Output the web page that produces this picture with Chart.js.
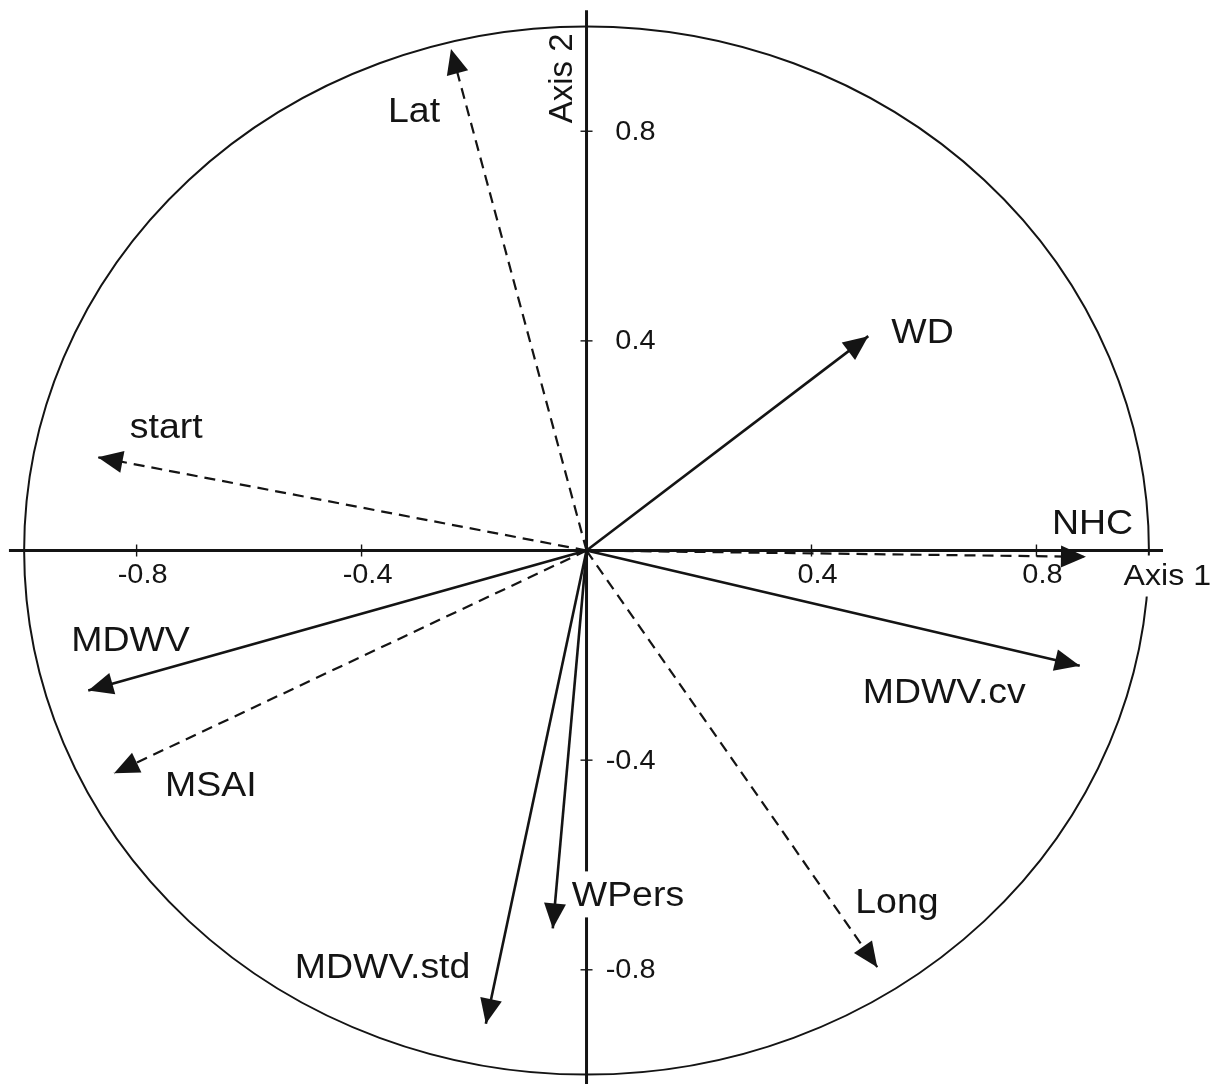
<!DOCTYPE html>
<html>
<head>
<meta charset="utf-8">
<script src="https://cdn.jsdelivr.net/npm/chart.js@4/dist/chart.umd.min.js"></script>
<style>
  html, body { margin: 0; padding: 0; background: #ffffff; overflow: hidden; }
  canvas { display: block; }
</style>
</head>
<body>
<canvas id="circle" width="1219" height="1084"></canvas>
<script>
// Correlation circle: variable loadings on the first two axes
const variables     = ['Lat', 'start', 'WD', 'NHC', 'MDWV', 'MSAI', 'MDWV.cv', 'WPers', 'MDWV.std', 'Long'];
const axis1Loadings = [-0.241, -0.869, 0.501, 0.888, -0.886, -0.840, 0.877, -0.060, -0.179, 0.517];
const axis2Loadings = [ 0.957,  0.178, 0.409, -0.012, -0.267, -0.425, -0.220, -0.721, -0.903, -0.795];
const dashedVariables = ['Lat', 'start', 'NHC', 'MSAI', 'Long'];

const xTickValues = [-0.8, -0.4, 0.4, 0.8];
const xTickLabels = ['-0.8', '-0.4', '0.4', '0.8'];
const yTickValues = [0.8, 0.4, -0.4, -0.8];
const yTickLabels = ['0.8', '0.4', '-0.4', '-0.8'];
const axisTitles  = ['Axis 1', 'Axis 2'];
const circleRadius = 1;

// Label placement (pixel offsets from each arrow tip to the text's left baseline)
const labelOffsets = {
  'Lat':      [-63,  73],
  'start':    [ 32, -19],
  'WD':       [ 23,   7],
  'NHC':      [-34, -23],
  'MDWV':     [-17, -39],
  'MSAI':     [ 51,  23],
  'MDWV.cv':  [-217, 37],
  'WPers':    [ 19, -22],
  'MDWV.std': [-191, -46],
  'Long':     [-22, -54]
};

const INK = '#141414';
const FONT = '"Liberation Sans", Arial, Helvetica, sans-serif';
const STRETCH = 1.07;      // text is drawn slightly wide
const HEAD_LEN = 25;
const HEAD_HALF = 11;
const LABEL_SIZE = 35;
const TICK_SIZE = 27;

function drawText(ctx, text, x, y, size, align, baseline) {
  ctx.save();
  ctx.font = size + 'px ' + FONT;
  const w = ctx.measureText(text).width * STRETCH;
  let left = x;
  if (align === 'center') left = x - w / 2;
  else if (align === 'right') left = x - w;
  ctx.translate(left, y);
  ctx.scale(STRETCH, 1);
  ctx.textAlign = 'left';
  ctx.textBaseline = baseline || 'alphabetic';
  ctx.fillStyle = INK;
  ctx.fillText(text, 0, 0);
  ctx.restore();
  return { left: left, width: w };
}

function textWidth(ctx, text, size) {
  ctx.save();
  ctx.font = size + 'px ' + FONT;
  const w = ctx.measureText(text).width * STRETCH;
  ctx.restore();
  return w;
}

const framePlugin = {
  id: 'circleFrame',
  beforeDatasetsDraw(chart) {
    const ctx = chart.ctx;
    const xs = chart.scales.x, ys = chart.scales.y;
    const x0 = xs.getPixelForValue(0), y0 = ys.getPixelForValue(0);
    ctx.save();
    ctx.strokeStyle = INK;
    ctx.fillStyle = INK;

    // unit circle
    const rx = Math.abs(xs.getPixelForValue(circleRadius) - x0);
    const ry = Math.abs(ys.getPixelForValue(circleRadius) - y0);
    ctx.lineWidth = 2;
    ctx.beginPath();
    ctx.ellipse(x0, y0, rx, ry, 0, 0, Math.PI * 2);
    ctx.stroke();

    // axes through the origin
    ctx.lineWidth = 2.8;
    ctx.beginPath();
    ctx.moveTo(xs.getPixelForValue(-1.027), y0);
    ctx.lineTo(xs.getPixelForValue(1.025), y0);
    ctx.stroke();
    ctx.lineWidth = 3;
    ctx.beginPath();
    ctx.moveTo(x0, ys.getPixelForValue(1.031));
    ctx.lineTo(x0, ys.getPixelForValue(-1.05));
    ctx.stroke();

    // tick marks
    ctx.lineWidth = 1.4;
    xTickValues.forEach(v => {
      const px = xs.getPixelForValue(v);
      ctx.beginPath(); ctx.moveTo(px, y0 - 6); ctx.lineTo(px, y0 + 6); ctx.stroke();
    });
    yTickValues.forEach(v => {
      const py = ys.getPixelForValue(v);
      ctx.beginPath(); ctx.moveTo(x0 - 6, py); ctx.lineTo(x0 + 6, py); ctx.stroke();
    });

    // tick labels
    xTickValues.forEach((v, i) => {
      drawText(ctx, xTickLabels[i], xs.getPixelForValue(v) + 6, y0 + 32, TICK_SIZE, 'center');
    });
    yTickValues.forEach((v, i) => {
      drawText(ctx, yTickLabels[i], x0 + 69, ys.getPixelForValue(v) + 1, TICK_SIZE, 'right', 'middle');
    });

    // axis titles
    const a1x = xs.getPixelForValue(0.955), a1y = y0 + 34;
    const a1w = textWidth(ctx, axisTitles[0], 30);
    ctx.fillStyle = '#ffffff';
    ctx.fillRect(a1x - 3, a1y - 29, a1w + 6, 41);
    drawText(ctx, axisTitles[0], a1x, a1y, 30, 'left');

    ctx.save();
    ctx.translate(x0 - 15, ys.getPixelForValue(0.815));
    ctx.rotate(-Math.PI / 2);
    ctx.font = '33px ' + FONT;
    ctx.fillStyle = INK;
    ctx.textAlign = 'left';
    ctx.textBaseline = 'alphabetic';
    ctx.fillText(axisTitles[1], 0, 0);
    ctx.restore();

    // white backing behind variable labels
    chart.data.datasets.forEach((ds, i) => {
      const tip = chart.getDatasetMeta(i).data[1];
      const off = labelOffsets[ds.label];
      const w = textWidth(ctx, ds.label, LABEL_SIZE);
      ctx.fillStyle = '#ffffff';
      ctx.fillRect(tip.x + off[0] - 3, tip.y + off[1] - 35, w + 6, 46);
    });
    ctx.restore();
  },
  afterDatasetsDraw(chart) {
    const ctx = chart.ctx;
    ctx.save();
    chart.data.datasets.forEach((ds, i) => {
      const pts = chart.getDatasetMeta(i).data;
      const a = pts[0], b = pts[1];
      const ang = Math.atan2(b.y - a.y, b.x - a.x);
      const bx = b.x - HEAD_LEN * Math.cos(ang), by = b.y - HEAD_LEN * Math.sin(ang);
      const nx = -Math.sin(ang) * HEAD_HALF, ny = Math.cos(ang) * HEAD_HALF;
      ctx.fillStyle = INK;
      ctx.beginPath();
      ctx.moveTo(b.x, b.y);
      ctx.lineTo(bx + nx, by + ny);
      ctx.lineTo(bx - nx, by - ny);
      ctx.closePath();
      ctx.fill();

      const off = labelOffsets[ds.label];
      drawText(ctx, ds.label, b.x + off[0], b.y + off[1], LABEL_SIZE, 'left');
    });
    ctx.restore();
  }
};

const datasets = variables.map((name, i) => {
  const dashed = dashedVariables.includes(name);
  return {
    label: name,
    data: [{ x: 0, y: 0 }, { x: axis1Loadings[i], y: axis2Loadings[i] }],
    showLine: true,
    borderColor: INK,
    borderWidth: dashed ? 2.2 : 2.6,
    borderDash: dashed ? [11, 7] : [],
    pointRadius: 0,
    fill: false,
    tension: 0
  };
});

new Chart(document.getElementById('circle'), {
  type: 'scatter',
  data: { datasets: datasets },
  options: {
    responsive: false,
    animation: false,
    devicePixelRatio: 1,
    layout: { padding: 0 },
    plugins: { legend: { display: false }, tooltip: { enabled: false } },
    events: [],
    scales: {
      x: { type: 'linear', display: false, min: -1.0429, max: 1.1246 },
      y: { type: 'linear', display: false, min: -1.0179, max: 1.0504 }
    }
  },
  plugins: [framePlugin]
});
</script>
</body>
</html>
